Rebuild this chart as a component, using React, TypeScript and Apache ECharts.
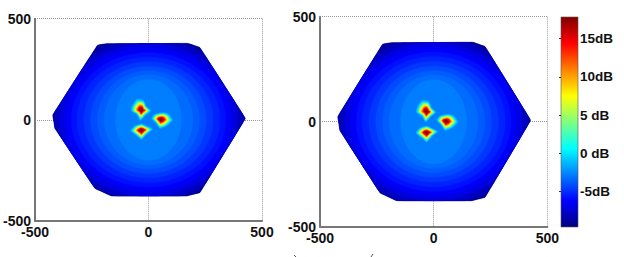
import React, { useEffect, useRef } from "react";
import * as echarts from "echarts";

const axisTicks = [-500, 0, 500];
const colorbarTicks = [-5, 0, 5, 10, 15];
const colorbarLabels = ["-5dB", "0 dB", "5 dB", "10dB", "15dB"];
const colorbarRange = [-9.6, 17.8];

// Outline of the covered area (x, y)
const hexagon = [
  [-224, 370], [-185, 376], [174, 378], [226, 358], [427, 7], [226, -360],
  [167, -376], [-163, -376], [-236, -339], [-412, -42], [-422, 24],
];
// Iso-level ellipses, outermost first: [x semi-axis, y semi-axis]
const bandAxes = [
  [440, 425], [415, 400], [390, 378], [365, 355], [340, 332], [315, 310],
  [285, 287], [255, 265], [225, 243], [195, 222], [145, 200],
];
const bandColors = [
  "#0000a0", "#0000c0", "#0000e0", "#0000f8", "#0010ff", "#0022ff",
  "#0036ff", "#004aff", "#005cff", "#006cff", "#007eff",
];
const hexBaseColor = "#000084";

// Three hot-spots: peak + outer contour
const lobePeaks = [[-31, 48], [54, 2], [-31, -52]];
const lobeOutlines = [
  [[-52, 100], [-22, 97], [-10, 68], [10, 45], [-14, 22], [-35, -2], [-52, 27], [-76, 45], [-72, 70]],
  [[26, 27], [66, 36], [90, 27], [106, -1], [82, -29], [50, -42], [33, -17], [14, 7]],
  [[-62, -31], [-31, -20], [-7, -31], [18, -47], [-7, -70], [-31, -97], [-52, -78], [-78, -54]],
];
const lobeScales = [1, 0.87, 0.75, 0.63, 0.5, 0.37, 0.2];
const lobeColors = ["#00b8ff", "#18ecdc", "#80ff80", "#f0ff10", "#ff9000", "#ee0000", "#8b0000"];

const jetStops = [
  [0, "#000080"], [0.125, "#0000ff"], [0.375, "#00ffff"],
  [0.625, "#ffff00"], [0.875, "#ff0000"], [1, "#800000"],
] as [number, string][];

const strayMarks = [
  [294, 255, 296, 257],
  [371, 257, 373, 254],
];

function hexRadius(angle: number) {
  const dx = Math.cos(angle), dy = Math.sin(angle);
  let best = Infinity;
  for (let i = 0; i < hexagon.length; i++) {
    const [ax, ay] = hexagon[i];
    const [bx, by] = hexagon[(i + 1) % hexagon.length];
    const ex = bx - ax, ey = by - ay;
    const den = dx * ey - dy * ex;
    if (Math.abs(den) < 1e-9) continue;
    const t = (ax * ey - ay * ex) / den;
    const u = (ax * dy - ay * dx) / den;
    if (t > 0 && u >= 0 && u <= 1 && t < best) best = t;
  }
  return best;
}

function clippedEllipse(rx: number, ry: number) {
  const pts: number[][] = [];
  const n = 180;
  for (let i = 0; i < n; i++) {
    const a = (i / n) * Math.PI * 2;
    const r = 1 / Math.hypot(Math.cos(a) / rx, Math.sin(a) / ry);
    const m = Math.min(r, hexRadius(a));
    pts.push([m * Math.cos(a), m * Math.sin(a)]);
  }
  return pts;
}

type Shape = { points: number[][]; color: string; smooth: number };
const shapes: Shape[] = [{ points: hexagon, color: hexBaseColor, smooth: 0 }];
bandAxes.forEach((b, i) => shapes.push({ points: clippedEllipse(b[0], b[1]), color: bandColors[i], smooth: 0 }));
lobeOutlines.forEach((outline, l) => {
  lobeScales.forEach((s, i) => {
    const [px, py] = lobePeaks[l];
    shapes.push({
      points: outline.map(([x, y]) => [px + (x - px) * s, py + (y - py) * s]),
      color: lobeColors[i],
      smooth: 0.2,
    });
  });
});

const font = { fontFamily: "Liberation Sans", fontWeight: "bold" as const, fontSize: 14, color: "#111" };

function plotAxis(gridIndex: number) {
  return {
    type: "value" as const,
    gridIndex,
    min: -500,
    max: 500,
    interval: 500,
    axisLine: { show: true, onZero: false, lineStyle: { color: "#777", width: 2 } },
    axisTick: { show: false },
    axisLabel: { ...font, margin: 4 },
    splitLine: { show: true, lineStyle: { color: "#999", type: "dotted" as const, width: 1 } },
    data: axisTicks,
  };
}

function plotSeries(index: number) {
  return {
    type: "custom" as const,
    xAxisIndex: index,
    yAxisIndex: index,
    coordinateSystem: "cartesian2d" as const,
    clip: false,
    silent: true,
    encode: { x: 0, y: 1 },
    data: shapes.map(() => [0, 0]),
    renderItem: (params: any, api: any) => {
      const s = shapes[params.dataIndex];
      return {
        type: "polygon",
        shape: { points: s.points.map((p) => api.coord(p)), smooth: s.smooth },
        style: { fill: s.color, stroke: s.color, lineWidth: 0.4 },
      };
    },
  };
}

export default function App() {
  const ref = useRef<HTMLDivElement>(null);
  useEffect(() => {
    document.body.style.margin = "0";
    const chart = echarts.init(ref.current!, undefined, { renderer: "svg" });
    chart.setOption({
      animation: false,
      backgroundColor: "#fff",
      grid: [
        { left: 35, top: 18.7, width: 227, height: 202.3 },
        { left: 320, top: 16.7, width: 227.3, height: 210 },
        { left: 561, top: 17, width: 17, height: 210 },
      ],
      xAxis: [
        plotAxis(0),
        plotAxis(1),
        {
          type: "value", gridIndex: 2, min: 0, max: 1,
          axisLine: { show: false }, axisTick: { show: false }, axisLabel: { show: false }, splitLine: { show: false },
        },
      ],
      yAxis: [
        plotAxis(0),
        plotAxis(1),
        {
          type: "value", gridIndex: 2, position: "right",
          min: colorbarRange[0], max: colorbarRange[1],
          axisLine: { show: false },
          axisTick: { show: true, inside: true, length: 2, lineStyle: { color: "#333" }, customValues: colorbarTicks },
          axisLabel: {
            ...font, fontSize: 13.5, margin: 2, showMinLabel: true, showMaxLabel: true, customValues: colorbarTicks,
            formatter: (v: number) => colorbarLabels[colorbarTicks.indexOf(v)] ?? "",
          },
          splitLine: { show: false },
        },
      ],
      series: [
        plotSeries(0),
        plotSeries(1),
        {
          type: "custom", xAxisIndex: 2, yAxisIndex: 2, silent: true, clip: false, z: 0,
          encode: { x: 0, y: 1 },
          data: [[0, colorbarRange[0], 1, colorbarRange[1]]],
          renderItem: (_p: any, api: any) => {
            const a = api.coord([api.value(0), api.value(3)]);
            const b = api.coord([api.value(2), api.value(1)]);
            return {
              type: "rect",
              shape: { x: a[0], y: a[1], width: b[0] - a[0], height: b[1] - a[1] },
              style: {
                fill: new echarts.graphic.LinearGradient(0, 1, 0, 0, jetStops.map(([offset, color]) => ({ offset, color }))),
                stroke: "#555",
                lineWidth: 0.6,
              },
            };
          },
        },
      ],
      graphic: strayMarks.map(([x1, y1, x2, y2]) => ({
        type: "line",
        shape: { x1, y1, x2, y2 },
        style: { stroke: "#555", lineWidth: 1 },
      })),
    });
    return () => chart.dispose();
  }, []);
  return <div ref={ref} style={{ position: "absolute", left: 0, top: 0, width: 624, height: 257 }} />;
}
